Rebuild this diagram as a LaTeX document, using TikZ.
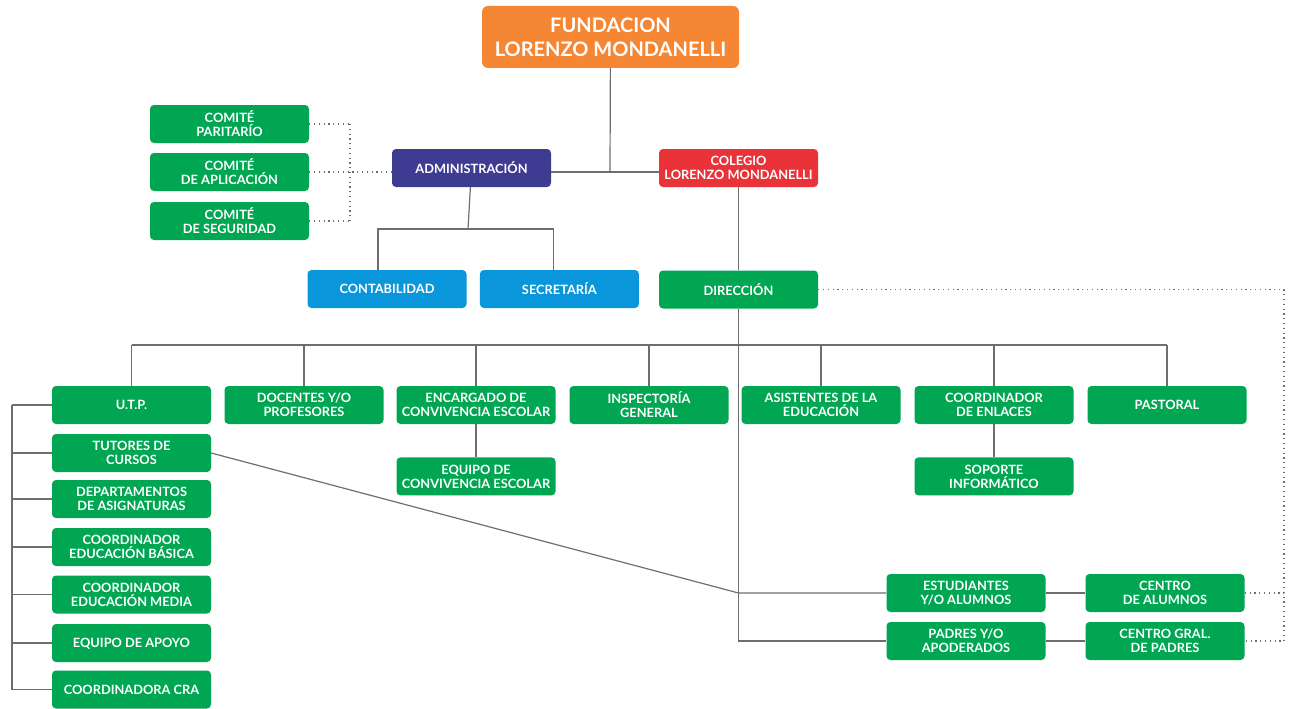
\documentclass[tikz,border=0pt]{standalone}
\usepackage{fontspec}
\setmainfont{Lato}
\usepackage{tikz}
\usetikzlibrary{positioning}
\definecolor{org-green}{HTML}{00A652}
\definecolor{org-orange}{HTML}{F58634}
\definecolor{org-purple}{HTML}{3E3B92}
\definecolor{org-red}{HTML}{EA3239}
\definecolor{org-blue}{HTML}{0A96DA}
\definecolor{org-gray}{HTML}{6D6E71}
\tikzset{
    org-box/.style = {fill=org-green, text=white, rectangle, rounded corners=4pt, minimum width=159pt, minimum height=38pt, inner sep=2pt, text depth=0pt, align=center, font=\fontsize{12.8}{14}\selectfont\bfseries},
    org-title/.style = {org-box, fill=org-orange, rounded corners=6pt, minimum width=257pt, minimum height=62pt, font=\fontsize{20}{24}\selectfont\bfseries},
    org-line/.style = {draw=org-gray, line width=1.2pt},
    org-dots/.style = {draw=org-gray, line width=1.2pt, dash pattern=on 1.2pt off 3.6pt},
}

\begin{document}
\begin{tikzpicture}[x=1pt, y=-1pt]
\useasboundingbox (0,0) rectangle (1291,709);
% top
\node[org-title] (fund) at (610.5,37) {FUNDACION\\LORENZO MONDANELLI};
\node[org-box] (com1) at (229.5,124) {COMITÉ\\PARITARÍO};
\node[org-box] (com2) at (229.5,172) {COMITÉ\\DE APLICACIÓN};
\node[org-box] (com3) at (229.5,221) {COMITÉ\\DE SEGURIDAD};
\node[org-box, fill=org-purple] (admin) at (471.5,168) {ADMINISTRACIÓN};
\node[org-box, fill=org-red] (colegio) at (738.5,168) {COLEGIO\\LORENZO MONDANELLI};
\node[org-box, fill=org-blue] (contab) at (387,289) {CONTABILIDAD};
\node[org-box, fill=org-blue, right=13pt of contab] (secret) {SECRETARÍA};
\node[org-box] (direc) at (738.5,289.5) {DIRECCIÓN};
% direccion row
\node[org-box] (utp) at (131.5,405) {U.T.P.};
\node[org-box] (doc) at (304,405) {DOCENTES Y/O\\PROFESORES};
\node[org-box] (enc) at (476,405) {ENCARGADO DE\\CONVIVENCIA ESCOLAR};
\node[org-box] (insp) at (649,405) {INSPECTORÍA\\GENERAL};
\node[org-box] (asis) at (821,405) {ASISTENTES DE LA\\EDUCACIÓN};
\node[org-box] (coord) at (994,405) {COORDINADOR\\DE ENLACES};
\node[org-box] (past) at (1167,405) {PASTORAL};
\node[org-box, below=33pt of enc] (equipo) {EQUIPO DE\\CONVIVENCIA ESCOLAR};
\node[org-box, below=33pt of coord] (soporte) {SOPORTE\\INFORMÁTICO};
% utp column
\node[org-box] (tut) at (131.5,453) {TUTORES DE\\CURSOS};
\node[org-box] (dep) at (131.5,499) {DEPARTAMENTOS\\DE ASIGNATURAS};
\node[org-box] (basica) at (131.5,547) {COORDINADOR\\EDUCACIÓN BÁSICA};
\node[org-box] (media) at (131.5,594.5) {COORDINADOR\\EDUCACIÓN MEDIA};
\node[org-box] (apoyo) at (131.5,643) {EQUIPO DE APOYO};
\node[org-box] (cra) at (131.5,689.5) {COORDINADORA CRA};
% estudiantes y padres
\node[org-box] (estud) at (966,593) {ESTUDIANTES\\Y/O ALUMNOS};
\node[org-box] (padres) at (966,641) {PADRES Y/O\\APODERADOS};
\node[org-box] (calum) at (1165,593) {CENTRO\\DE ALUMNOS};
\node[org-box] (cpadres) at (1165,641) {CENTRO GRAL.\\DE PADRES};

\coordinate (fund-join) at (610,172);
\coordinate (admin-split) at (468,229);
\coordinate (bus) at (0,345);
\coordinate (bracket) at (12,0);
\coordinate (com-dots) at (350,0);
\coordinate (dot-corner) at (1284,0);

\draw[org-line] (fund) -- (fund-join);
\draw[org-line] (admin.east |- fund-join) -- (colegio.west |- fund-join);
\draw[org-line] (admin) -- (admin-split);
\draw[org-line] ([xshift=-9pt]contab.north) |- (admin-split) -| ([xshift=-6pt]secret.north);
\draw[org-line] (colegio) -- (direc);
\draw[org-line] (utp.north |- bus) -- (past.north |- bus);
\foreach \n in {utp,doc,enc,insp,asis,coord,past}
    \draw[org-line] (\n.north) -- (\n.north |- bus);
\draw[org-line] (enc) -- (equipo);
\draw[org-line] (coord) -- (soporte);
\foreach \n in {utp,tut,dep,basica,media,apoyo,cra}
    \draw[org-line] (\n.west) -- (\n.west -| bracket);
\draw[org-line] (utp.west -| bracket) -- (cra.west -| bracket);
\draw[org-line] (direc.south) |- (padres.west);
\draw[org-line] (tut.east) -- (direc.south |- estud.west) -- (estud.west);
\draw[org-line] (estud) -- (calum);
\draw[org-line] (padres) -- (cpadres);

% dotted links
\foreach \n in {com1,com2,com3}
    \draw[org-dots] (\n.east) -- (\n.east -| com-dots);
\draw[org-dots] (com1.east -| com-dots) -- (com3.east -| com-dots);
\draw[org-dots] (com2.east) -- (admin.west |- fund-join);
\draw[org-dots] (direc.east) -- (direc.east -| dot-corner) -- (dot-corner |- cpadres.east) -- (cpadres.east);
\draw[org-dots] (calum.east) -- (calum.east -| dot-corner);
\end{tikzpicture}
\end{document}
